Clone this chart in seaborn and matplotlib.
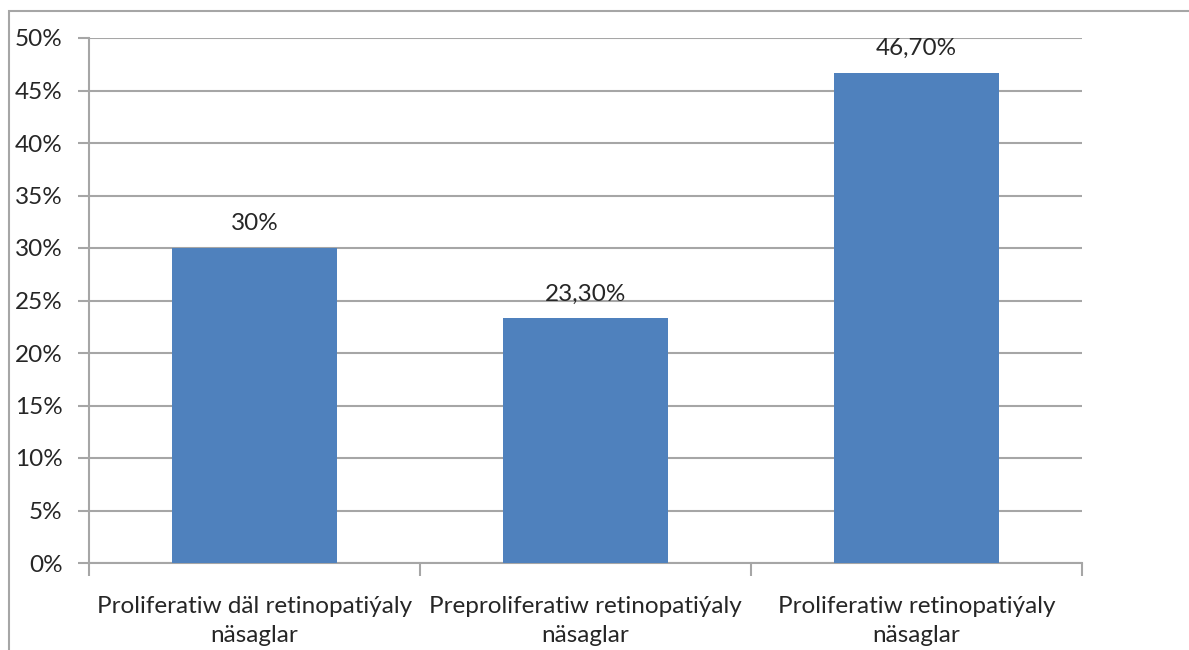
import pandas as pd
import seaborn as sns
import matplotlib.pyplot as plt
from matplotlib.patches import Rectangle

# data
categories = ["Proliferatiw däl retinopatiýaly\nnäsaglar",
              "Preproliferatiw retinopatiýaly\nnäsaglar",
              "Proliferatiw retinopatiýaly\nnäsaglar"]
values = [30.0, 23.3, 46.7]
value_labels = ["30%", "23,30%", "46,70%"]
yticks = [0, 5, 10, 15, 20, 25, 30, 35, 40, 45, 50]

df = pd.DataFrame({"cat": categories, "val": values})

sns.set_style("white")
plt.rcParams["font.family"] = ["Lato", "DejaVu Sans"]

grey = "#A6A6A6"
fs = 17.5
fig = plt.figure(figsize=(11.89, 6.5), dpi=100)
ax = fig.add_axes([89 / 1189, 87 / 650, (1082 - 89) / 1189, (563 - 38) / 650])

sns.barplot(data=df, x="cat", y="val", color="#4F81BD", saturation=1,
            width=0.5, linewidth=0, ax=ax, zorder=3)

ax.set_xlim(-0.5, 2.5)
ax.set_ylim(0, 50)
ax.set_yticks(yticks)
ax.set_yticklabels([f"{t}%" for t in yticks])
ax.yaxis.grid(True, color=grey, linewidth=1.5, zorder=0)
ax.set_axisbelow(True)
ax.set_xlabel("")
ax.set_ylabel("")

# category boundary ticks
ax.set_xticks([-0.5, 0.5, 1.5, 2.5], minor=True)
ax.tick_params(axis="x", which="minor", length=9, width=1.5, color=grey, direction="out")
ax.tick_params(axis="x", which="major", length=0, pad=24, labelsize=fs)
ax.tick_params(axis="y", length=8, width=1.5, color=grey, direction="out", pad=11, labelsize=fs)
ax.tick_params(axis="y", left=True)
ax.tick_params(axis="x", bottom=True, which="minor")
for t in ax.get_xticklabels():
    t.set_linespacing(1.45)

for s in ["top", "right"]:
    ax.spines[s].set_visible(False)
for s in ["left", "bottom"]:
    ax.spines[s].set_color(grey)
    ax.spines[s].set_linewidth(1.5)

for bar, lab in zip(ax.patches, value_labels):
    ax.annotate(lab, (bar.get_x() + bar.get_width() / 2, bar.get_height()),
                xytext=(0, 10), textcoords="offset points",
                ha="center", va="bottom", fontsize=fs)

# outer chart border (only left and top visible)
fig.patches.append(Rectangle((9 / 1189, -0.1), 1.2, 0.1 + (650 - 11) / 650,
                             transform=fig.transFigure, fill=False,
                             edgecolor=grey, linewidth=1.5))

fig.savefig("out.png", dpi=100)
